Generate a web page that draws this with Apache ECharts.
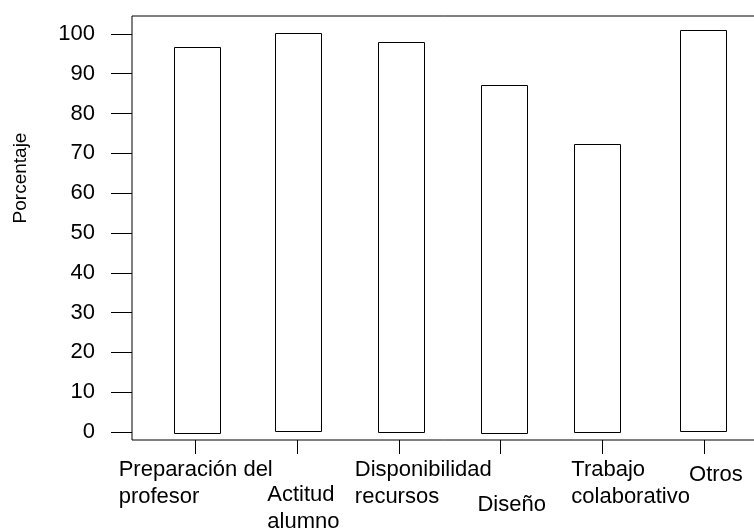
<!DOCTYPE html>
<html><head><meta charset="utf-8">
<script src="https://cdn.jsdelivr.net/npm/echarts@6/dist/echarts.min.js"></script>
<style>html,body{margin:0;padding:0;background:#fff}#c{width:754px;height:529px}</style>
</head><body><div id="c"></div>
<script>
// ---- data ----
const categories = ['Preparación del profesor', 'Actitud alumno', 'Disponibilidad recursos', 'Diseño', 'Trabajo colaborativo', 'Otros'];
const labelLines = [['Preparación del', 'profesor'], ['Actitud', 'alumno'], ['Disponibilidad', 'recursos'], ['Diseño'], ['Trabajo', 'colaborativo'], ['Otros']];
const barTop = [96.7, 100.2, 98.0, 87.2, 72.3, 101.1];
const barBottom = [-0.25, 0.15, 0, -0.25, 0, 0.15];
const yTicks = [0, 10, 20, 30, 40, 50, 60, 70, 80, 90, 100];
const yName = 'Porcentaje';

// ---- layout ----
const X_MIN = -0.627, X_MAX = 5.524;
const labelAt = [0.0, 1.06, 2.24, 3.11, 4.28, 5.12];
const labelRow = [0, 1, 0, 3, 0, 2];
const rowOffsetPx = [0, 25, 5, 35];
const barShiftPx = [1, 1, 2, 3, -5, -1];
const FONT = "'Liberation Sans', Arial, sans-serif";

const chart = echarts.init(document.getElementById('c'), null, {renderer: 'canvas'});
const tickIdx = categories.map((c, i) => i);

function makeXAxis(row) {
  const vals = labelAt.filter((p, k) => labelRow[k] === row);
  return {
    type: 'value', min: X_MIN, max: X_MAX, position: 'bottom', offset: rowOffsetPx[row],
    axisLine: {show: false, onZero: false},
    splitLine: {show: false},
    axisTick: row === 0 ? {show: true, customValues: tickIdx, length: 14, lineStyle: {color: '#000', width: 1}} : {show: false},
    axisLabel: {
      customValues: vals, margin: 16, align: 'center', verticalAlign: 'top',
      showMinLabel: true, showMaxLabel: true, hideOverlap: false,
      formatter: function (v) {
        let j = 0, best = 1e9;
        labelAt.forEach((p, k) => { const d = Math.abs(p - v); if (d < best) { best = d; j = k; } });
        return labelLines[j].map(l => '{a|' + l + '}').join('\n');
      },
      rich: {a: {fontSize: 22, fontFamily: FONT, color: '#000', lineHeight: 27, align: 'left'}}
    }
  };
}

chart.setOption({
  animation: false,
  backgroundColor: '#fff',
  grid: {left: 132, top: 16, width: 625, height: 424, containLabel: false, outerBoundsMode: 'none',
    show: true, borderColor: '#000', borderWidth: 1, backgroundColor: 'transparent'},
  xAxis: rowOffsetPx.map((o, r) => makeXAxis(r)),
  yAxis: {
    type: 'value', min: -2, max: 104.5,
    axisLine: {show: false, onZero: false},
    splitLine: {show: false},
    axisTick: {show: true, customValues: yTicks, length: 21, lineStyle: {color: '#000', width: 1}},
    axisLabel: {customValues: yTicks, margin: 37, fontSize: 22, fontFamily: FONT, color: '#000', showMinLabel: true, showMaxLabel: true}
  },
  graphic: [{
    type: 'text', x: 21, y: 178, rotation: Math.PI / 2,
    style: {text: yName, font: '19px ' + FONT, fill: '#000', align: 'center', verticalAlign: 'middle'}
  }],
  series: [{
    type: 'custom',
    clip: false,
    xAxisIndex: 0,
    encode: {x: 0, y: [1, 2]},
    data: categories.map((c, i) => [i, barBottom[i], barTop[i]]),
    renderItem: function (params, api) {
      const i = api.value(0);
      const top = api.coord([i, api.value(2)]);
      const bot = api.coord([i, api.value(1)]);
      const w = 46;
      const cx = top[0] + barShiftPx[params.dataIndex];
      return {
        type: 'rect',
        shape: {x: Math.round(cx - w / 2) + 0.5, y: Math.round(top[1]) + 0.5, width: w, height: Math.round(bot[1]) - Math.round(top[1])},
        style: {fill: '#fff', stroke: '#000', lineWidth: 1}
      };
    }
  }]
});
</script>
</body></html>
